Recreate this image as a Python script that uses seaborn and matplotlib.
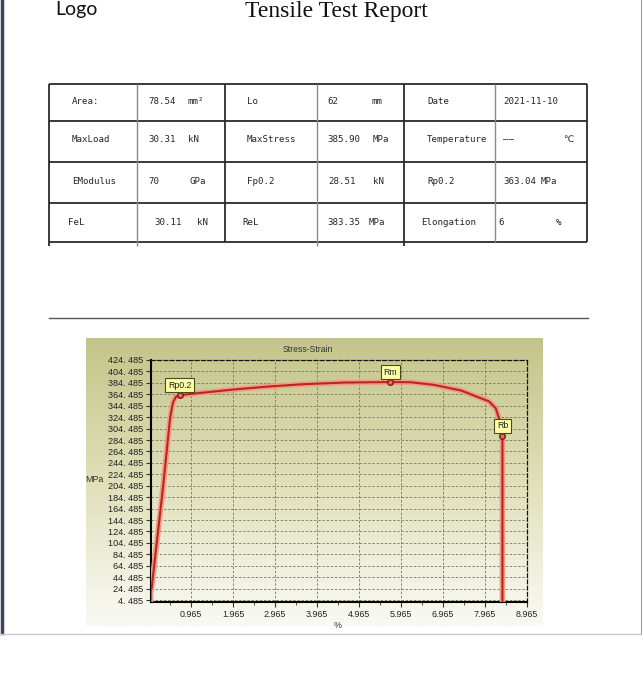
import numpy as np
import pandas as pd
import matplotlib
matplotlib.use("Agg")
import matplotlib.pyplot as plt
import seaborn as sns

# ---------------- data ----------------
strain = [0.00, 0.00, 0.02, 0.30, 0.46, 0.53, 0.60, 0.69, 1.20, 2.00, 2.80,
          3.60, 4.60, 5.71, 6.20, 6.75, 7.40, 8.06, 8.22, 8.30, 8.38, 8.38]
stress = [1.0, 20.0, 24.0, 206.0, 322.0, 350.0, 360.0, 363.04, 367.0, 373.0, 378.0,
          382.0, 385.0, 385.90, 385.5, 381.0, 371.0, 352.0, 340.0, 322.0, 292.0, 1.0]

point_names = ["Rp0.2", "Rm", "Rb"]
point_strain = [0.69, 5.71, 8.38]
point_stress = [363.04, 385.90, 292.0]

x_ticks = [0.965, 1.965, 2.965, 3.965, 4.965, 5.965, 6.965, 7.965, 8.965]
x_tick_labels = ["0.965", "1.965", "2.965", "3.965", "4.965", "5.965", "6.965", "7.965", "8.965"]
x_minor_ticks = [0.465, 1.465, 2.465, 3.465, 4.465, 5.465, 6.465, 7.465, 8.465]
y_ticks = [4.485, 24.485, 44.485, 64.485, 84.485, 104.485, 124.485, 144.485, 164.485,
           184.485, 204.485, 224.485, 244.485, 264.485, 284.485, 304.485, 324.485,
           344.485, 364.485, 384.485, 404.485, 424.485]
y_tick_labels = ["4. 485", "24. 485", "44. 485", "64. 485", "84. 485", "104. 485", "124. 485",
                 "144. 485", "164. 485", "184. 485", "204. 485", "224. 485", "244. 485",
                 "264. 485", "284. 485", "304. 485", "324. 485", "344. 485", "364. 485",
                 "384. 485", "404. 485", "424. 485"]

chart_title = "Stress-Strain"
x_label = "%"
y_label = "MPa"
logo_text = "Logo"
report_title = "Tensile Test Report"

table_row1 = ["Area:", "78.54", "mm²", "Lo", "62", "mm", "Date", "2021-11-10", ""]
table_row2 = ["MaxLoad", "30.31", "kN", "MaxStress", "385.90", "MPa", "Temperature", "——", "℃"]
table_row3 = ["EModulus", "70", "GPa", "Fp0.2", "28.51", "kN", "Rp0.2", "363.04", "MPa"]
table_row4 = ["FeL", "30.11", "kN", "ReL", "383.35", "MPa", "Elongation", "6", "%"]

# ---------------- layout (pixels) ----------------
W, H = 642, 700
row_x = [
    [72, 148, 188, 247, 327, 372, 427, 503, 563],
    [72, 148, 188, 247, 327, 373, 427, 503, 563],
    [72, 148, 189, 247, 328, 373, 427, 503, 541],
    [68, 154, 197, 242, 327, 369, 421, 498, 556],
]
row_y = [102, 140, 181.5, 222.5]

fig = plt.figure(figsize=(W / 100, H / 100), dpi=100)
fig.patch.set_facecolor("white")

ov = fig.add_axes([0, 0, 1, 1])
ov.set_axis_off()

# chart panel gradient
grad_top = np.array([196, 196, 138]) / 255
grad_mid = np.array([224, 224, 186]) / 255
grad_bot = np.array([250, 250, 246]) / 255
t = np.linspace(0, 1, 256)[:, None]
g = np.where(t < 0.5, grad_top + (grad_mid - grad_top) * (t / 0.5),
             grad_mid + (grad_bot - grad_mid) * ((t - 0.5) / 0.5))
ov.imshow(g[:, None, :], extent=(86, 543, 627, 338), aspect="auto", interpolation="bilinear")

# page borders
ov.plot([2, 2], [0, 633], color="#3c465c", lw=2.5)
ov.plot([640.5, 640.5], [0, 633], color="#9a9a9a", lw=0.8)
ov.plot([0, 642], [633.5, 633.5], color="#c8c8c8", lw=1.0)

# header
ov.text(55, 9.5, logo_text, fontsize=14, family="Lato", va="center", ha="left", color="#111111")
ov.text(336, 12, report_title, fontsize=17, family="Liberation Serif", va="center", ha="center",
        color="#111111")

# table grid
for yy in [83.5, 121, 162, 202.5, 242]:
    ov.plot([49, 587], [yy, yy], color="#2a2a2a", lw=1.3, solid_capstyle="butt")
for xx, ext in [(49.3, 246), (225, 242), (404, 246), (587, 242)]:
    ov.plot([xx, xx], [83.5, ext], color="#2a2a2a", lw=1.3, solid_capstyle="butt")
for xx, ext in [(137, 246), (317, 246), (495, 242)]:
    ov.plot([xx, xx], [83.5, ext], color="#8a8a8a", lw=1.0, solid_capstyle="butt")

table = [table_row1, table_row2, table_row3, table_row4]
for r, row in enumerate(table):
    for c, txt in enumerate(row):
        if txt:
            ov.text(row_x[r][c], row_y[r], txt, fontsize=6.6,
                    family=["DejaVu Sans Mono", "DejaVu Sans", "Noto Sans CJK SC"],
                    va="center", ha="left", color="#262626")

# separator
ov.plot([49, 588], [318.3, 318.3], color="#555555", lw=1.0)

ov.text(307.5, 350, chart_title, fontsize=6.2, family="Liberation Sans", ha="center", va="center",
        color="#333333")

ov.set_xlim(0, W)
ov.set_ylim(H, 0)

# ---------------- chart ----------------
L, R, T, B = 150.7, 527.0, 360.0, 602.0
ax = fig.add_axes([L / W, 1 - B / H, (R - L) / W, (B - T) / H])
ax.patch.set_alpha(0)

df = pd.DataFrame({"strain": strain, "stress": stress})
sns.lineplot(data=df, x="strain", y="stress", sort=False, estimator=None,
             color="#f29a88", lw=4.0, ax=ax, zorder=3)
sns.lineplot(data=df, x="strain", y="stress", sort=False, estimator=None,
             color="#b8281a", lw=1.5, ax=ax, zorder=4)

pts = pd.DataFrame({"strain": point_strain, "stress": point_stress, "name": point_names})
sns.scatterplot(data=pts, x="strain", y="stress", s=16, color="#e07060",
                edgecolor="#7a1a10", linewidth=1.0, ax=ax, zorder=5)
for nm, xs, ys in zip(point_names, point_strain, point_stress):
    ax.annotate(nm, (xs, ys), xytext=(0, 10), textcoords="offset pixels",
                ha="center", va="center", fontsize=6.3, family="Liberation Sans", color="#222222",
                bbox=dict(boxstyle="square,pad=0.3", fc="#ffffa6", ec="#4a4a20", lw=0.8),
                zorder=6)

ax.set_xlim(0, 8.965)
ax.set_ylim(1.0, 424.485)
ax.set_xticks(x_ticks)
ax.set_xticklabels(x_tick_labels, fontsize=6.4, family="Liberation Sans", color="#222222")
ax.set_xticks(x_minor_ticks, minor=True)
ax.set_yticks(y_ticks)
ax.set_yticklabels(y_tick_labels, fontsize=6.6, family="Liberation Sans", color="#222222")
ax.tick_params(axis="both", which="major", direction="out", length=3.5, width=0.8,
               color="#333333", pad=2)
ax.tick_params(axis="x", which="minor", direction="out", length=2, width=0.6, color="#333333")

ax.grid(True, which="major", ls=(0, (3, 2)), color="#777766", lw=0.6, zorder=1)

for side in ["left", "bottom"]:
    ax.spines[side].set_color("black")
    ax.spines[side].set_linewidth(1.5)
for side in ["top", "right"]:
    ax.spines[side].set_color("#111111")
    ax.spines[side].set_linewidth(0.9)
    ax.spines[side].set_linestyle((0, (3, 2)))

ax.set_xlabel(x_label, fontsize=6.4, family="Liberation Sans", color="#333333")
ax.set_ylabel(y_label, fontsize=6.4, family="Liberation Sans", color="#333333",
              rotation=0, ha="center", va="center")
ax.xaxis.set_label_coords((338 - L) / (R - L), -(621 - B) / (B - T))
ax.yaxis.set_label_coords((94 - L) / (R - L), (B - 479) / (B - T))
if ax.get_legend():
    ax.get_legend().remove()

fig.savefig("out.png", dpi=100, facecolor="white")
